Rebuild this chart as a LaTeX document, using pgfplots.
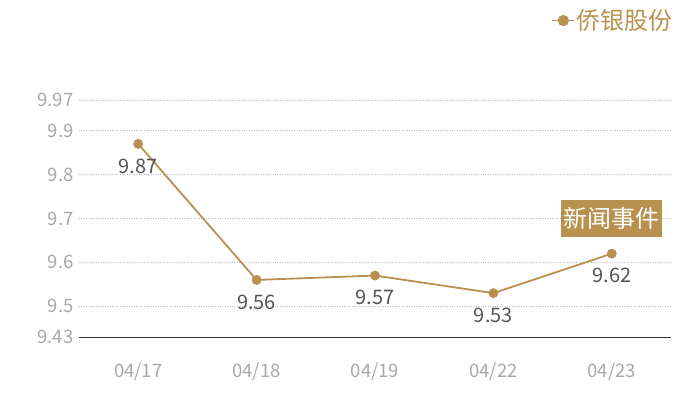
\documentclass[border=0pt]{standalone}
\usepackage{fontspec}
\setmainfont{Noto Sans CJK SC}
\usepackage{pgfplots}
\pgfplotsset{compat=1.18}
\definecolor{gold}{HTML}{B8914F}
\definecolor{tickgray}{HTML}{A8A8A8}
\definecolor{labgray}{HTML}{555555}
\definecolor{gridgray}{HTML}{BBBBBB}
\begin{document}
\begin{tikzpicture}
\useasboundingbox (0,0) rectangle (700bp,400bp);
\begin{axis}[
  at={(79bp,63bp)}, anchor=south west,
  scale only axis, width=592bp, height=237bp,
  xmin=-0.5, xmax=4.5, ymin=9.43, ymax=9.97,
  xtick={0,1,2,3,4},
  xticklabels={04/17,04/18,04/19,04/22,04/23},
  ytick={9.43,9.5,9.6,9.7,9.8,9.9,9.97},
  yticklabels={9.43,9.5,9.6,9.7,9.8,9.9,9.97},
  axis x line*=bottom, axis y line*=left,
  x axis line style={draw=black!80, line width=0.8bp, -},
  y axis line style={draw=none},
  major tick length=0pt,
  ymajorgrids, grid style={gridgray, dotted, line width=0.6bp},
  /pgf/number format/assume math mode=true,
  ticklabel style={font=\fontsize{18.5bp}{22bp}\selectfont, text=tickgray},
  xticklabel style={yshift=-22bp},
  yticklabel style={xshift=-2bp},
  legend style={at={(1.007,1.39)}, anchor=north east, draw=none, fill=none,
    font=\fontsize{24bp}{28bp}\selectfont, text=gold, inner sep=0pt,
    legend cell align=left},
  legend image code/.code={
    \draw[mark repeat=2,mark phase=2,#1,mark size=5bp,line width=1.2bp] plot coordinates {(0bp,0bp)(11bp,0bp)(22bp,0bp)};},
  clip=false,
]
\addplot[gold, line width=1.8bp, mark=*, mark size=4bp, mark options={fill=gold, draw=gold},
  nodes near coords={\pgfmathprintnumber[fixed,precision=2,fixed zerofill]{\pgfplotspointmeta}},
  nodes near coords style={anchor=center, yshift=-22bp, font=\fontsize{20bp}{24bp}\selectfont, text=labgray},
  point meta=y]
  coordinates {(0,9.87) (1,9.56) (2,9.57) (3,9.53) (4,9.62)};
\addlegendentry{侨银股份}
\node[fill=gold, text=white, font=\fontsize{24bp}{28bp}\selectfont, inner sep=2bp, minimum width=101bp, minimum height=37bp, anchor=center]
  at (axis cs:4,9.62) [yshift=35bp] {新闻事件};
\end{axis}
\end{tikzpicture}
\end{document}
